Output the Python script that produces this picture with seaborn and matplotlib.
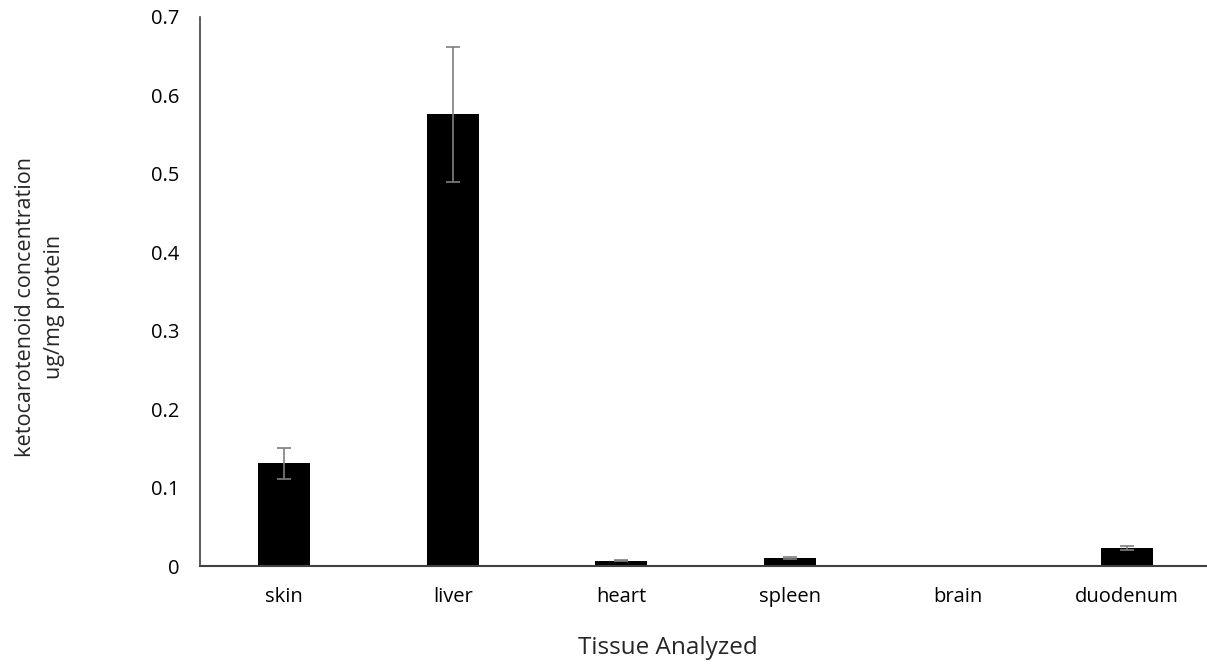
import matplotlib
matplotlib.use("Agg")
import matplotlib.pyplot as plt
import seaborn as sns
import numpy as np

tissues = ["skin", "liver", "heart", "spleen", "brain", "duodenum"]
concentration = [0.131, 0.576, 0.007, 0.010, 0.0, 0.023]
std_err = [0.020, 0.086, 0.0012, 0.0012, 0.0, 0.003]
y_ticks = [0, 0.1, 0.2, 0.3, 0.4, 0.5, 0.6, 0.7]
y_tick_labels = ["0", "0.1", "0.2", "0.3", "0.4", "0.5", "0.6", "0.7"]

sns.set_theme(style="white")
plt.rcParams['font.family'] = ['Open Sans', 'DejaVu Sans']

fig = plt.figure(figsize=(12.07, 6.69), dpi=100)
ax = fig.add_axes([200/1207, 1 - 566/669, 1011/1207, (566 - 17)/669])

sns.barplot(x=tissues, y=concentration, color="black", width=0.31, ax=ax,
            saturation=1, edgecolor="black", linewidth=0)
ax.errorbar(x=np.arange(len(tissues)), y=concentration, yerr=std_err, fmt="none",
            ecolor="#7f7f7f", elinewidth=1.2, capsize=4.7, capthick=1.2)

ax.set_xlim(-0.5, 5.5)
ax.set_ylim(0, 0.7)
ax.set_yticks(y_ticks)
ax.set_yticklabels(y_tick_labels)
ax.tick_params(axis="y", length=0, pad=15, labelsize=14.5, labelcolor="#000000")
ax.tick_params(axis="x", length=0, pad=15, labelsize=14.5, labelcolor="#000000")

for s in ["top", "right"]:
    ax.spines[s].set_visible(False)
ax.spines["left"].set_color("#404040")
ax.spines["left"].set_linewidth(1.2)
ax.spines["bottom"].set_color("#404040")
ax.spines["bottom"].set_linewidth(1.5)

ax.set_xlabel("Tissue Analyzed", fontsize=17.5)
ax.set_ylabel("ketocarotenoid concentration\nug/mg protein", fontsize=15.6, linespacing=1.45)
ax.xaxis.set_label_coords(0.463, -0.128)
ax.yaxis.set_label_coords(-0.134, 0.472)

fig.savefig("out.png", dpi=100)
